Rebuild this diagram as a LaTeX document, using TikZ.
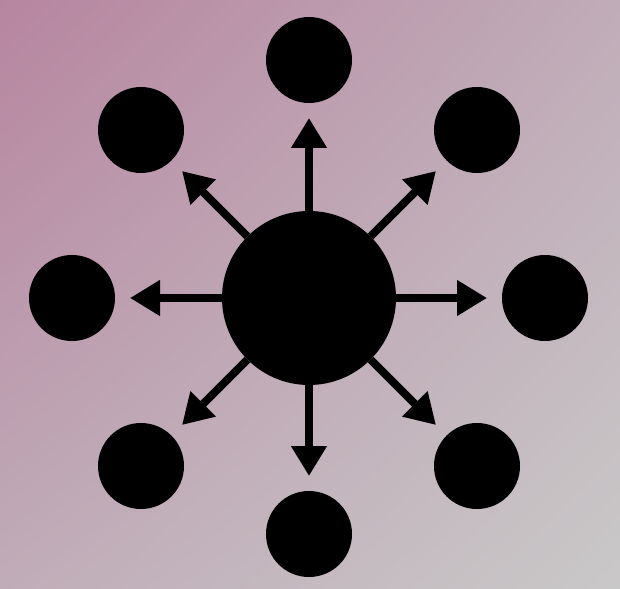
\documentclass[tikz,border=0pt]{standalone}
\usetikzlibrary{arrows.meta,shadings}
\definecolor{bgA}{RGB}{183,133,160}
\definecolor{bgB}{RGB}{192,172,184}
\definecolor{bgC}{RGB}{201,200,200}
\begin{document}
\begin{tikzpicture}[x=1pt,y=-1pt,
  hub/.style={circle,fill=black,inner sep=0pt,outer sep=0pt,minimum size=174pt},
  leaf/.style={circle,fill=black,inner sep=0pt,outer sep=0pt,minimum size=86pt},
  spoke/.style={line width=8pt,-{Triangle[length=30pt,width=34pt]},shorten >=15pt}]
\shade[upper left=bgA,upper right=bgB,lower left=bgB,lower right=bgC] (0,0) rectangle (620,588);
\useasboundingbox (0,0) rectangle (620,588);
\node[hub] (c) at (309,298) {};
\node[leaf] (n) at (309,60) {};
\node[leaf] (ne) at (477,130) {};
\node[leaf] (e) at (545,298) {};
\node[leaf] (se) at (477,466) {};
\node[leaf] (s) at (309,534) {};
\node[leaf] (sw) at (141,466) {};
\node[leaf] (w) at (72,298) {};
\node[leaf] (nw) at (141,130) {};
\foreach \t in {n,ne,e,se,s,sw,w,nw}
  \draw[spoke] (c) -- (\t);
\end{tikzpicture}
\end{document}
